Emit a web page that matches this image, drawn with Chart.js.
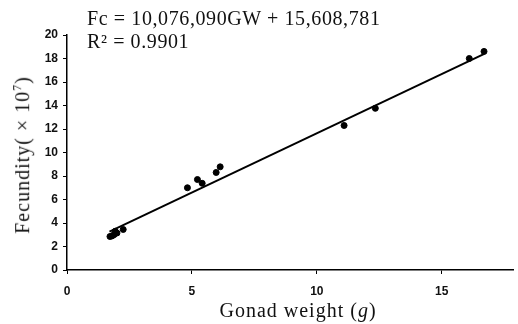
<!DOCTYPE html>
<html>
<head>
<meta charset="utf-8">
<script src="https://cdn.jsdelivr.net/npm/chart.js@4/dist/chart.umd.min.js"></script>
<style>
  html, body { margin: 0; padding: 0; background: #fff; }
  #wrap { position: relative; width: 518px; height: 324px; }
  .lbl { position: absolute; font-family: "Liberation Serif", "DejaVu Serif", serif; color: #111; white-space: nowrap; }
  #eq1 { left: 87px; top: 7px; font-size: 20px; letter-spacing: 0.6px; }
  #eq2 { left: 87px; top: 30px; font-size: 20px; letter-spacing: 0.6px; }
  #xt { left: 298px; top: 299px; font-size: 20px; letter-spacing: 1px; transform: translateX(-50%); }
  #yt { left: 22px; top: 155px; font-size: 20px; letter-spacing: 1px; transform: translate(-50%, -50%) rotate(-90deg); }
  sup { font-size: 60%; }
</style>
</head>
<body>
<div id="wrap">
  <canvas id="chart" width="518" height="324"></canvas>
  <div class="lbl" id="eq1">Fc = 10,076,090GW + 15,608,781</div>
  <div class="lbl" id="eq2">R² = 0.9901</div>
  <div class="lbl" id="xt">Gonad weight (<i>g</i>)</div>
  <div class="lbl" id="yt">Fecundity( × 10<sup>7</sup>)</div>
</div>
<script>
// gonad weight (g) and fecundity (x10^7)
const gonadWeight = [1.72, 1.8, 1.88, 1.93, 2.0, 2.25, 4.82, 5.22, 5.41, 5.97, 6.13, 11.09, 12.34, 16.1, 16.69];
const fecundity   = [2.85, 2.9, 3.0, 3.3, 3.15, 3.45, 7.0, 7.7, 7.38, 8.3, 8.78, 12.3, 13.76, 18.0, 18.6];

// regression line endpoints
const fitX = [1.7, 16.7];
const fitY = [3.27, 18.39];

const xTicks = [0, 5, 10, 15];
const yTicks = [0, 2, 4, 6, 8, 10, 12, 14, 16, 18, 20];

const tickFont = { family: 'Liberation Sans, Arial, sans-serif', size: 12, weight: 'bold' };

new Chart(document.getElementById('chart'), {
  type: 'scatter',
  data: {
    datasets: [
      {
        label: 'fit',
        type: 'line',
        data: fitX.map((x, i) => ({ x, y: fitY[i] })),
        borderColor: '#000',
        borderWidth: 2,
        pointRadius: 0,
        fill: false,
        order: 2
      },
      {
        label: 'fish',
        data: gonadWeight.map((x, i) => ({ x, y: fecundity[i] })),
        backgroundColor: '#000',
        borderColor: '#000',
        pointRadius: 3,
        order: 1
      }
    ]
  },
  options: {
    responsive: false,
    animation: false,
    layout: { padding: { left: 27, right: 1, top: 35, bottom: 24 } },
    plugins: { legend: { display: false }, tooltip: { enabled: false } },
    scales: {
      x: {
        type: 'linear',
        min: 0,
        max: 17.85,
        afterBuildTicks: s => { s.ticks = xTicks.map(v => ({ value: v })); },
        afterFit: s => { s.height = 30; },
        border: { color: '#000', width: 1.5 },
        grid: { drawOnChartArea: false, tickLength: 4, color: '#000' },
        ticks: { color: '#111', font: tickFont, padding: 10 }
      },
      y: {
        type: 'linear',
        min: 0,
        max: 20,
        afterBuildTicks: s => { s.ticks = yTicks.map(v => ({ value: v })); },
        afterFit: s => { s.width = 40; },
        border: { color: '#000', width: 1.5 },
        grid: { drawOnChartArea: false, tickLength: 4, color: '#000' },
        ticks: { color: '#111', font: tickFont, padding: 5 }
      }
    }
  }
});
</script>
</body>
</html>
